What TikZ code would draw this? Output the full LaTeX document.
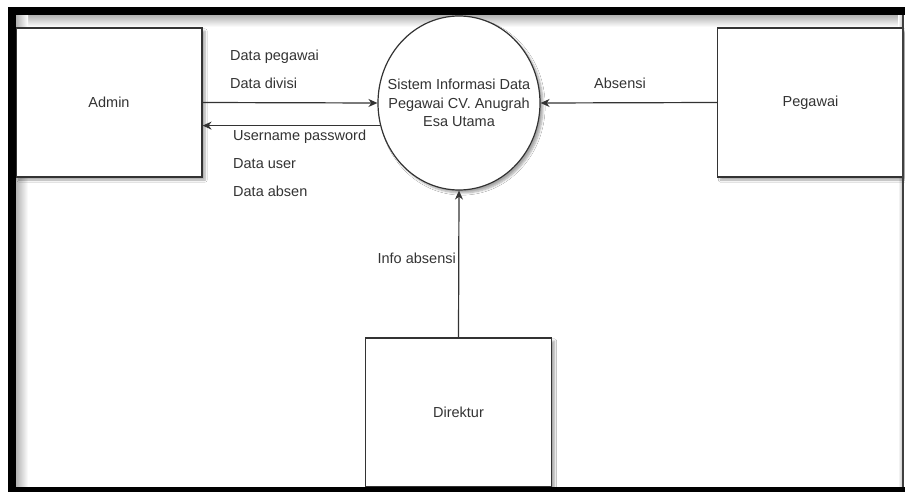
\documentclass[tikz,border=0pt]{standalone}
\usepackage{fontspec}
\setmainfont{Liberation Sans}
\usetikzlibrary{shapes.geometric,arrows.meta,shadows.blur}
\definecolor{ink}{HTML}{333333}
\definecolor{txt}{HTML}{333333}
\tikzset{
  entity/.style={draw=ink, line width=1.2pt, fill=white, minimum width=186pt, minimum height=149pt,
    inner sep=0pt, font=\fontsize{14.5}{18.5}\selectfont, text=txt,
    blur shadow={shadow xshift=3pt, shadow yshift=-3pt, shadow blur steps=6, shadow opacity=35}},
  process/.style={ellipse, draw=ink, line width=1.2pt, fill=white, minimum width=162pt, minimum height=174pt,
    inner sep=0pt,
    blur shadow={shadow xshift=3pt, shadow yshift=-3pt, shadow blur steps=6, shadow opacity=35}},
  flow/.style={draw=ink, line width=1.2pt, -{Stealth[length=9pt,width=8pt]}},
  lbl/.style={font=\fontsize{14.5}{18.5}\selectfont, text=txt, inner sep=0pt},
}
\begin{document}
\begin{tikzpicture}[x=1pt,y=-1pt]
\useasboundingbox (0,0) rectangle (905,492);
\fill[white] (0,0) rectangle (905,492);
% inner shadows of the frame
\shade[top color=black!30, bottom color=white] (16,15) rectangle (903,27);
\shade[left color=black!30, right color=white] (16,15) rectangle (28,487);
\shade[left color=white, right color=black!20] (898,15) rectangle (902,487);
% entities
\node[entity] (admin) at (109,102.5) {Admin};
\node[entity] (peg) at (810.5,102.5) {Pegawai};
\node[entity] (dir) at (458.5,412.5) {Direktur};
\node[process] (sys) at (459,103) {};
\node[lbl, align=center] (systxt) at (sys.center) {Sistem Informasi Data\\Pegawai CV. Anugrah\\Esa Utama};
% flows
\draw[flow] (admin.east) -- (sys.west);
\draw[flow] (sys.196) -- (sys.196 -| admin.east);
\draw[flow] (peg.west) -- (sys.east);
\draw[flow] (dir.north) -- (sys.south);
% labels
\node[lbl, anchor=west] (l1) at (230,57) {Data pegawai};
\node[lbl, anchor=west] (l2) at (230,83) {Data divisi};
\node[lbl, anchor=west] (l3) at (233,137) {Username password};
\node[lbl, anchor=west] (l4) at (233,164) {Data user};
\node[lbl, anchor=west] (l5) at (233,191) {Data absen};
\node[lbl] (l6) at (620,83) {Absensi};
\node[lbl, anchor=east] (l7) at (456,258) {Info absensi};
% frame
\fill[black] (8,7) rectangle (16,492);
\fill[black] (8,7) rectangle (905,15);
\fill[black] (8,487) rectangle (905,492);
\fill[black!75] (902,15) rectangle (904,487);
\end{tikzpicture}
\end{document}
